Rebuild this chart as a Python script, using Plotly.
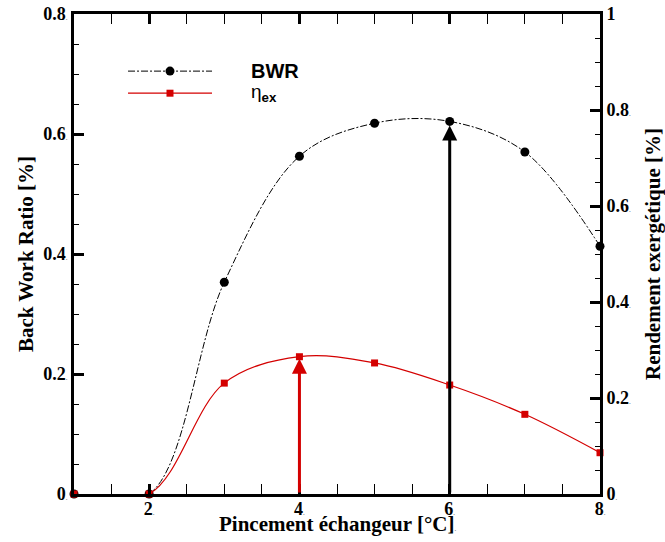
import plotly.graph_objects as go

# ---- data ----
pincement = [1, 2, 3, 4, 5, 6, 7, 8]
bwr = [0.0, 0.0, 0.353, 0.563, 0.618, 0.621, 0.570, 0.413]
eta_ex = [0.0, 0.0, 0.231, 0.286, 0.273, 0.227, 0.166, 0.086]

x_ticks = [2, 4, 6, 8]
x_ticklabels = ["2", "4", "6", "8"]
y_ticks = [0, 0.2, 0.4, 0.6, 0.8]
y_ticklabels = ["0", "0.2", "0.4", "0.6", "0.8"]
y2_ticks = [0, 0.2, 0.4, 0.6, 0.8, 1.0]
y2_ticklabels = ["0", "0.2", "0.4", "0.6", "0.8", "1"]

BLACK = "#000000"
RED = "#d40000"
SERIF = "Liberation Serif"
SANS = "Liberation Sans"
dot = "<span style='font-size:7px;color:#777'>.</span>"

fig = go.Figure()

# lines (clipped)
fig.add_trace(go.Scatter(x=pincement, y=bwr, mode="lines", yaxis="y",
                         line=dict(color=BLACK, width=1, dash="7px,2px,2px,2px",
                                   shape="spline", smoothing=1.0),
                         showlegend=False, hoverinfo="skip"))
fig.add_trace(go.Scatter(x=pincement, y=eta_ex, mode="lines", yaxis="y2",
                         line=dict(color=RED, width=1.2, shape="spline", smoothing=1.0),
                         showlegend=False, hoverinfo="skip"))
# markers
fig.add_trace(go.Scatter(x=pincement, y=eta_ex, mode="markers", yaxis="y2",
                         marker=dict(symbol="square", size=7, color=RED),
                         cliponaxis=False, showlegend=False, name="ηex"))
fig.add_trace(go.Scatter(x=pincement, y=bwr, mode="markers", yaxis="y",
                         marker=dict(symbol="circle", size=9, color=BLACK),
                         cliponaxis=False, showlegend=False, name="BWR"))

# arrows (pointing to the optimum points)
fig.add_annotation(x=pincement[5], y=bwr[5], xref="x", yref="y",
                   ax=pincement[5], ay=0, axref="x", ayref="y",
                   showarrow=True, arrowhead=2, arrowsize=1.0, arrowwidth=3,
                   arrowcolor=BLACK, standoff=4, text="")
fig.add_annotation(x=pincement[3], y=eta_ex[3], xref="x", yref="y2",
                   ax=pincement[3], ay=0, axref="x", ayref="y2",
                   showarrow=True, arrowhead=2, arrowsize=1.0, arrowwidth=3,
                   arrowcolor=RED, standoff=2, text="")

# custom legend
lx0, lx1, lmx, ltx = 0.1027, 0.2624, 0.1825, 0.333
ly_bwr, ly_eta = 0.881, 0.835
fig.add_shape(type="line", xref="paper", yref="paper", x0=lx0, x1=lx1, y0=ly_bwr, y1=ly_bwr,
              line=dict(color=BLACK, width=1, dash="7px,2px,2px,2px"))
fig.add_shape(type="circle", xref="paper", yref="paper", xsizemode="pixel", ysizemode="pixel",
              xanchor=lmx, yanchor=ly_bwr, x0=-4.5, x1=4.5, y0=-4.5, y1=4.5,
              fillcolor=BLACK, line=dict(width=0))
fig.add_shape(type="line", xref="paper", yref="paper", x0=lx0, x1=lx1, y0=ly_eta, y1=ly_eta,
              line=dict(color=RED, width=1.2))
fig.add_shape(type="rect", xref="paper", yref="paper", xsizemode="pixel", ysizemode="pixel",
              xanchor=lmx, yanchor=ly_eta, x0=-3.5, x1=3.5, y0=-3.5, y1=3.5,
              fillcolor=RED, line=dict(width=0))
fig.add_annotation(x=ltx, y=ly_bwr, xref="paper", yref="paper", xanchor="left", yanchor="middle",
                   text="<b>BWR</b>", showarrow=False, font=dict(family=SANS, size=20, color=BLACK, weight="bold"))
fig.add_annotation(x=ltx, y=ly_eta, xref="paper", yref="paper", xanchor="left", yanchor="middle",
                   text="η<sub><b>ex</b></sub>", showarrow=False, font=dict(family=SANS, size=19, color=BLACK))

tickfont = dict(family=SERIF, size=18, color=BLACK, weight="bold")
titlefont = dict(family=SERIF, size=21, color=BLACK, weight="bold")

# x-axis title as an annotation so it sits close to the tick labels
fig.add_annotation(x=0.5, y=0, xref="paper", yref="paper", xanchor="center", yanchor="middle",
                   yshift=-30, showarrow=False, text="Pincement échangeur [°C]" + dot, font=titlefont)

fig.update_layout(
    width=665, height=542,
    margin=dict(l=74, r=65, t=14, b=48),
    plot_bgcolor="white", paper_bgcolor="white",
    xaxis=dict(range=[1, 8], tickvals=x_ticks, ticktext=["%s%s" % (t, dot) for t in x_ticklabels],
               ticks="inside", ticklen=10, tickwidth=3, tickcolor=BLACK, ticklabelstandoff=-4,
               minor=dict(dtick=0.5, tick0=0, ticks="inside", ticklen=5, tickwidth=1, tickcolor=BLACK),
               showline=True, linewidth=3, linecolor=BLACK, mirror="allticks",
               showgrid=False, zeroline=False, tickfont=tickfont, automargin=False,
               ticklabeloverflow="allow"),
    yaxis=dict(range=[0, 0.8], tickvals=y_ticks, ticktext=["%s%s" % (t, dot) for t in y_ticklabels],
               ticks="inside", ticklen=10, tickwidth=3, tickcolor=BLACK,
               minor=dict(dtick=0.05, tick0=0, ticks="inside", ticklen=5, tickwidth=1, tickcolor=BLACK),
               showline=True, linewidth=3, linecolor=BLACK, automargin=False,
               showgrid=False, zeroline=False, tickfont=tickfont, ticklabeloverflow="allow",
               title=dict(text="Back Work Ratio [%]", font=titlefont, standoff=4)),
    yaxis2=dict(range=[0, 1.0], overlaying="y", side="right", tickvals=y2_ticks,
                ticktext=["%s%s" % (t, dot if t != "1" else "") for t in y2_ticklabels],
                ticks="inside", ticklen=10, tickwidth=3, tickcolor=BLACK,
                minor=dict(dtick=0.05, tick0=0, ticks="inside", ticklen=5, tickwidth=1, tickcolor=BLACK),
                showline=True, linewidth=3, linecolor=BLACK, automargin=False,
                showgrid=False, zeroline=False, tickfont=tickfont, ticklabeloverflow="allow",
                title=dict(text="Rendement exergétique [%]", font=titlefont, standoff=16)),
)

# remove the page's default body margin so the figure sits at the window origin; hide the modebar
fig.write_html("out.html", config={"displayModeBar": False},
               post_script="document.body.style.margin='0px';")
